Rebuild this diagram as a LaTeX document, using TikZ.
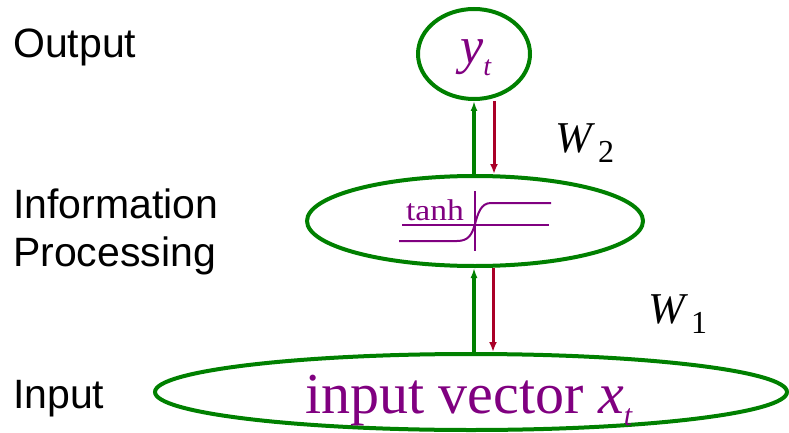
\documentclass[tikz,border=0pt]{standalone}
\usepackage{fontspec}
\setmainfont{Liberation Serif}
\setsansfont{Liberation Sans}
\usetikzlibrary{shapes.geometric,arrows.meta}
\definecolor{dgreen}{RGB}{0,128,0}
\definecolor{dpurple}{RGB}{128,0,128}
\definecolor{dred}{RGB}{170,0,40}
\tikzset{
  x=1pt,y=-1pt,
  unit/.style={draw=dgreen,line width=4pt,ellipse,inner sep=0pt},
  sidelabel/.style={anchor=base west,inner sep=0pt,font=\sffamily\fontsize{41}{41}\selectfont},
  wlabel/.style={anchor=base west,inner sep=0pt},
  math/.style={anchor=base,inner sep=0pt,text=dpurple},
  upflow/.style={draw=dgreen,line width=3.5pt,-{Latex[length=10pt,width=7pt]}},
  downflow/.style={draw=dred,line width=3pt,-{Latex[length=10pt,width=8pt]}},
  curve/.style={draw=dpurple,line width=2pt}
}
\newcommand{\wsym}[1]{\fontsize{44}{44}\selectfont\textit{W}\hspace{3pt}\raisebox{-10pt}{\fontsize{32}{32}\selectfont #1}}
\begin{document}
\begin{tikzpicture}
\useasboundingbox (0,0) rectangle (789,433);
% units
\node[unit,minimum width=112pt,minimum height=90pt] (out) at (474,54) {};
\node[unit,minimum width=336pt,minimum height=90pt] (mid) at (475,221) {};
\node[unit,minimum width=632pt,minimum height=76pt] (in) at (471,392) {};
% texts in units
\node[math] (yt) at (476,64) {\fontsize{52}{52}\selectfont\textit{y}\raisebox{-12pt}{\fontsize{28}{28}\selectfont\textit{t}}};
\node[math] (xt) at (469,413) {\fontsize{58}{58}\selectfont input vector \textit{x}\raisebox{-12pt}{\fontsize{30}{30}\selectfont\textit{t}}};
% tanh sketch
\draw[curve] (475,191) -- (475,251);
\draw[curve] (402,225) -- (549,225);
\draw[curve] (399,241) -- (457,241) .. controls (469,241) and (472,234) .. (475,224)
  .. controls (478,213) and (481,203) .. (491,203) -- (551,203);
\node[math,xscale=1.12] (tanh) at (435,220) {\fontsize{30}{30}\selectfont tanh};
% side labels
\node[sidelabel] (lout) at (13,58) {Output};
\node[sidelabel] (linfo) at (13,218) {Information};
\node[sidelabel] (lproc) at (13,266) {Processing};
\node[sidelabel] (lin) at (13,408) {Input};
% weights
\node[wlabel] (w2) at (555,152) {\wsym{2}};
\node[wlabel] (w1) at (648,323) {\wsym{1}};
% connectors
\draw[upflow] ([xshift=-1pt]mid.south |- in.north) -- ([xshift=-1pt]mid.south);
\draw[downflow] ([xshift=18pt]mid.south) -- ([xshift=18pt]mid.south |- in.north);
\draw[upflow] ([xshift=-1pt]mid.north) -- ([xshift=-1pt]mid.north |- out.south);
\draw[downflow] ([xshift=19pt]mid.north |- out.south) -- ([xshift=19pt]mid.north);
\end{tikzpicture}
\end{document}
